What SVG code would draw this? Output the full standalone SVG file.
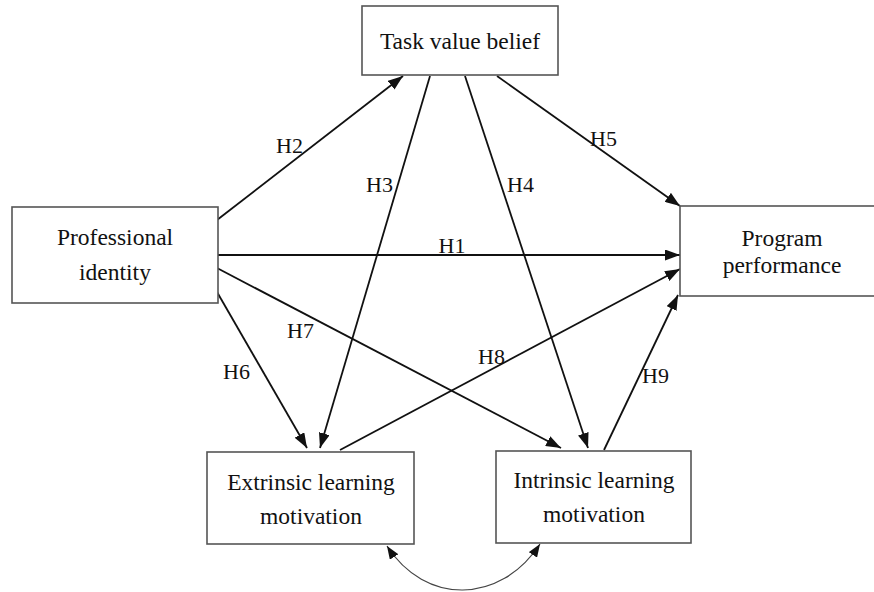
<svg xmlns="http://www.w3.org/2000/svg" width="874" height="592" viewBox="0 0 874 592">
<defs>
<style>
.box{fill:#fff;stroke:#555;stroke-width:1.6}
.t{font-family:"Liberation Serif","Times New Roman",serif;font-size:23.5px;fill:#111;text-anchor:middle}
.lbl{font-family:"Liberation Serif","Times New Roman",serif;font-size:22px;fill:#111}
.c{stroke:#111;stroke-width:1.8;fill:none;marker-end:url(#ah)}
.cv{stroke:#444;stroke-width:1.2;fill:none;marker-start:url(#ahs);marker-end:url(#ahs)}
</style>
<marker id="ah" markerUnits="userSpaceOnUse" markerWidth="15" markerHeight="11" refX="15" refY="5.5" orient="auto">
<path d="M0,0 L15,5.5 L0,11 z" fill="#111"/>
</marker>
<marker id="ahs" markerUnits="userSpaceOnUse" markerWidth="13" markerHeight="10" refX="13" refY="5" orient="auto-start-reverse">
<path d="M0,0 L13,5 L0,10 z" fill="#111"/>
</marker>
</defs>
<rect width="874" height="592" fill="#fff"/>
<g id="connectors">
<line class="c" x1="217" y1="255" x2="680" y2="255"/>
<line class="c" x1="217" y1="220" x2="403" y2="76"/>
<line class="c" x1="430" y1="76" x2="320" y2="448"/>
<line class="c" x1="465" y1="76" x2="588" y2="448"/>
<line class="c" x1="497" y1="76" x2="680" y2="206"/>
<line class="c" x1="217" y1="292" x2="307" y2="448"/>
<line class="c" x1="217" y1="268" x2="561" y2="448"/>
<line class="c" x1="340" y1="450" x2="680" y2="269"/>
<line class="c" x1="604" y1="450" x2="678" y2="295"/>
<path class="cv" d="M387,546 C425,605 500,605 540,544"/>
<text class="lbl" x="452" y="253" text-anchor="middle">H1</text>
<text class="lbl" x="276" y="153">H2</text>
<text class="lbl" x="366" y="192">H3</text>
<text class="lbl" x="507" y="192">H4</text>
<text class="lbl" x="590" y="146">H5</text>
<text class="lbl" x="223" y="379">H6</text>
<text class="lbl" x="287" y="338">H7</text>
<text class="lbl" x="478" y="364">H8</text>
<text class="lbl" x="642" y="383">H9</text>
</g>
<g id="task-value-belief">
<rect class="box" x="362" y="6" width="196" height="69"/>
<text class="t" x="460" y="49">Task value belief</text>
</g>
<g id="professional-identity">
<rect class="box" x="12" y="207" width="206" height="96"/>
<text class="t" x="115" y="245">Professional</text>
<text class="t" x="115" y="280">identity</text>
</g>
<g id="program-performance">
<rect class="box" x="680" y="206" width="200" height="90"/>
<text class="t" x="782" y="246">Program</text>
<text class="t" x="782" y="273">performance</text>
</g>
<g id="extrinsic-learning-motivation">
<rect class="box" x="207" y="452" width="207" height="92"/>
<text class="t" x="311" y="490">Extrinsic learning</text>
<text class="t" x="311" y="524">motivation</text>
</g>
<g id="intrinsic-learning-motivation">
<rect class="box" x="496" y="451" width="195" height="92"/>
<text class="t" x="594" y="488">Intrinsic learning</text>
<text class="t" x="594" y="522">motivation</text>
</g>
</svg>
